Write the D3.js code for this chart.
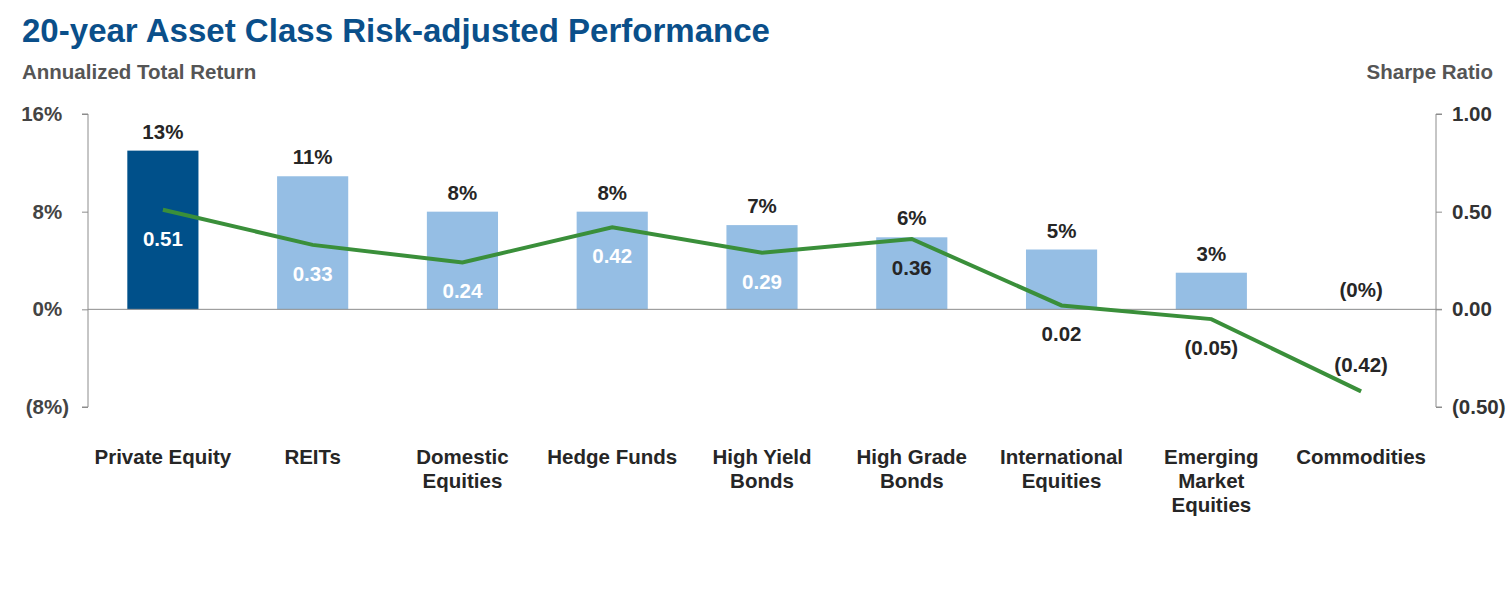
<!DOCTYPE html>
<html><head><meta charset="utf-8">
<script src="https://cdn.jsdelivr.net/npm/d3@7/dist/d3.min.js"></script>
<style>body{margin:0;background:#fff}svg{display:block;font-family:"Liberation Sans",Arial,sans-serif}</style>
</head><body><svg id="c" width="1510" height="594"></svg>
<script>
const categories = ["Private Equity","REITs","Domestic\nEquities","Hedge Funds","High Yield\nBonds","High Grade\nBonds","International\nEquities","Emerging\nMarket\nEquities","Commodities"];
const totalReturn = [13.0, 10.9, 8.0, 8.0, 6.9, 5.9, 4.9, 3.0, -0.02];
const sharpeRatio = [0.51, 0.33, 0.24, 0.42, 0.29, 0.36, 0.02, -0.05, -0.42];
const leftTicks = [-8, 0, 8, 16];
const rightTicks = [-0.5, 0, 0.5, 1.0];

// styling (not data)
const barColors = ["#00508A","#95BEE4","#95BEE4","#95BEE4","#95BEE4","#95BEE4","#95BEE4","#95BEE4","#95BEE4"];
const sharpeLabelColors = ["#fff","#fff","#fff","#fff","#fff","#262626","#262626","#262626","#262626"];
const FS = 20.5;

const svg = d3.select("#c");
const x0 = 88, x1 = 1436, yTop = 114, yBot = 407;
const x = d3.scaleBand().domain(d3.range(categories.length)).range([x0, x1]).paddingInner(0.525).paddingOuter(0.2625);
const yL = d3.scaleLinear().domain([-8, 16]).range([yBot, yTop]);
const yR = d3.scaleLinear().domain([-0.5, 1.0]).range([yBot, yTop]);

const fmtPct = v => { const s = d3.format(".0f")(Math.abs(v)) + "%"; return v < 0 ? "(" + s + ")" : s; };
const fmtR = v => { const s = d3.format(".2f")(Math.abs(v)); return v < 0 ? "(" + s + ")" : s; };

// title
svg.append("text").attr("x", 22).attr("y", 42).attr("font-size", 33).attr("font-weight", "bold")
  .attr("fill", "#0A4F8A").attr("textLength", 748).attr("lengthAdjust", "spacingAndGlyphs")
  .text("20-year Asset Class Risk-adjusted Performance");
svg.append("text").attr("x", 22).attr("y", 79).attr("font-size", FS).attr("font-weight", "bold")
  .attr("fill", "#555").text("Annualized Total Return");
svg.append("text").attr("x", 1493).attr("y", 79).attr("font-size", FS).attr("font-weight", "bold")
  .attr("fill", "#555").attr("text-anchor", "end").text("Sharpe Ratio");

// bars
svg.append("g").selectAll("rect").data(totalReturn).join("rect")
  .attr("x", (d, i) => x(i)).attr("width", x.bandwidth())
  .attr("y", d => yL(Math.max(0, d))).attr("height", d => Math.abs(yL(d) - yL(0)))
  .attr("fill", (d, i) => barColors[i]);

// axes
const axL = d3.axisLeft(yL).tickValues(leftTicks).tickFormat(fmtPct).tickSize(6).tickPadding(13);
const gL = svg.append("g").attr("transform", `translate(${x0},0)`).call(axL);
const axR = d3.axisRight(yR).tickValues(rightTicks).tickFormat(fmtR).tickSize(6).tickPadding(10);
const gR = svg.append("g").attr("transform", `translate(${x1},0)`).call(axR);
[gL, gR].forEach(g => {
  g.selectAll(".domain").attr("stroke", "#8c8c8c").attr("d", g === gL ? `M-6,${yTop}H0V${yBot}H-6` : `M6,${yTop}H0V${yBot}H6`);
  g.selectAll(".tick line").attr("stroke", "#8c8c8c");
  g.selectAll(".tick text").attr("font-size", FS).attr("font-weight", "bold").attr("fill", "#333").attr("font-family", "Liberation Sans, Arial, sans-serif");
});
gL.selectAll(".tick text").attr("fill", "#444");
// Excel-style "_)" padding: positive labels reserve room for a closing parenthesis
gL.selectAll(".tick text").filter(d => d >= 0).append("tspan").attr("fill", "none").text(")");
// zero line
svg.append("line").attr("x1", x0).attr("x2", x1 + 6).attr("y1", yL(0)).attr("y2", yL(0)).attr("stroke", "#8c8c8c");

// bar value labels
svg.append("g").selectAll("text").data(totalReturn).join("text")
  .attr("x", (d, i) => x(i) + x.bandwidth() / 2).attr("y", d => yL(Math.max(0, d)) - 12)
  .attr("text-anchor", "middle").attr("font-size", FS).attr("font-weight", "bold").attr("fill", "#262626")
  .text(fmtPct);

// sharpe line
const line = d3.line().x((d, i) => x(i) + x.bandwidth() / 2).y(d => yR(d));
svg.append("path").datum(sharpeRatio).attr("d", line).attr("fill", "none").attr("stroke", "#3A8F3A").attr("stroke-width", 4);

// sharpe labels
svg.append("g").selectAll("text").data(sharpeRatio).join("text")
  .attr("x", (d, i) => x(i) + x.bandwidth() / 2)
  .attr("y", d => yR(d) + 35 > yBot ? yR(d) - 19 : yR(d) + 36)
  .attr("text-anchor", "middle").attr("font-size", FS).attr("font-weight", "bold")
  .attr("fill", (d, i) => sharpeLabelColors[i]).text(fmtR);

// category labels
const cg = svg.append("g").selectAll("text").data(categories).join("text")
  .attr("x", (d, i) => x(i) + x.bandwidth() / 2).attr("y", 464)
  .attr("text-anchor", "middle").attr("font-size", FS).attr("font-weight", "bold").attr("fill", "#262626");
cg.each(function(d) {
  const t = d3.select(this);
  d.split("\n").forEach((s, k) => t.append("tspan").attr("x", t.attr("x")).attr("dy", k ? 24 : 0).text(s));
});
</script></body></html>
